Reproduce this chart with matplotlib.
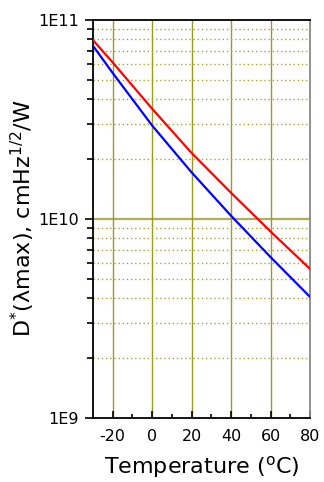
import numpy as np
import matplotlib
matplotlib.use('Agg')
import matplotlib.pyplot as plt
from matplotlib.ticker import LogLocator, NullFormatter, FixedLocator

plt.rcParams['axes.unicode_minus'] = False

# values (D* vs temperature)
temp = [-30, -20, 0, 20, 40, 60, 80]
d_red = [7.9e10, 6.1e10, 3.57e10, 2.14e10, 1.35e10, 8.63e9, 5.6e9]
d_blue = [7.4e10, 5.4e10, 2.94e10, 1.71e10, 1.035e10, 6.42e9, 4.05e9]

xticks = [-20, 0, 20, 40, 60, 80]
xminor = [-10, 10, 30, 50, 70]
yticks = [1e9, 1e10, 1e11]
ylabels = ['1E9', '1E10', '1E11']

fig = plt.figure(figsize=(3.24, 4.82), dpi=100)
ax = fig.add_axes([0.287, 0.133, 0.67, 0.826])

olive = '#9a9a2a'
ax.set_yscale('log')
ax.set_xlim(-30, 80)
ax.set_ylim(1e9, 1e11)

# grid
for xv in xticks[:-1]:
    ax.axvline(xv, color=olive, lw=1.0, zorder=1)
ax.axhline(1e10, color=olive, lw=1.6, alpha=0.8, zorder=1)
for dec in [1e9, 1e10]:
    for m in range(2, 10):
        ax.axhline(dec * m, color='#a4a43a', lw=1.0, ls=(0, (1, 2)), zorder=1)

ax.plot(temp, d_red, color='#ff0000', lw=1.6, zorder=3)
ax.plot(temp, d_blue, color='#0000ff', lw=1.6, zorder=3)

ax.set_yticks(yticks)
ax.set_yticklabels(ylabels)
ax.yaxis.set_minor_locator(LogLocator(base=10, subs=np.arange(2, 10)))
ax.yaxis.set_minor_formatter(NullFormatter())
ax.set_xticks(xticks)
ax.xaxis.set_minor_locator(FixedLocator(xminor))
ax.tick_params(axis='y', which='major', direction='out', length=6, width=1.2, labelsize=11.5, pad=4)
ax.tick_params(axis='y', which='minor', direction='out', length=4, width=1.2)
ax.tick_params(axis='x', which='major', direction='in', length=5, width=1.2, labelsize=11.5, pad=8)
ax.tick_params(axis='x', which='minor', direction='in', length=3, width=1.2)
ax.tick_params(axis='x', which='both', top=False)
ax.tick_params(axis='y', which='both', right=False)

for s in ['left', 'bottom', 'top']:
    ax.spines[s].set_linewidth(1.3)
ax.spines['right'].set_color('#888888')
ax.spines['right'].set_linewidth(1.3)

ax.set_xlabel('Temperature ($^{\\mathregular{o}}$C)', fontsize=16, labelpad=7)
ax.set_ylabel('D$^{\\mathregular{*}}$(λmax), cmHz$^{\\mathregular{1/2}}$/W', fontsize=16, labelpad=1)

fig.savefig('out.png', dpi=100)
